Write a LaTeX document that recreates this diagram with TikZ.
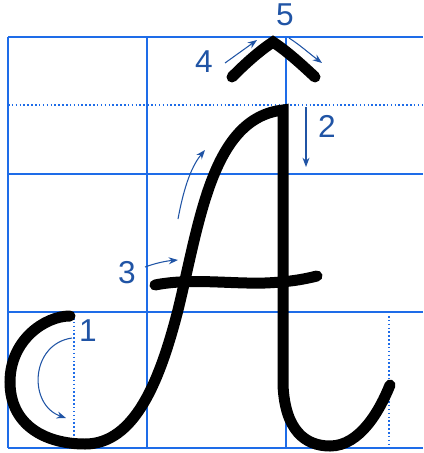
\documentclass[tikz,border=0pt]{standalone}
\usepackage{fontspec}
\usepackage{tikz}
\usetikzlibrary{arrows.meta, positioning, calc}
\newfontfamily\numfont{Liberation Sans}
\definecolor{gridBlue}{RGB}{30, 108, 232}
\definecolor{guideBlue}{RGB}{32, 84, 165}
\definecolor{inkBlack}{RGB}{0, 0, 0}
\tikzset{
  gridline/.style={
    draw=gridBlue, line width=1.8pt
  },
  gridmid/.style={
    draw=gridBlue, line width=1.3pt, dotted
  },
  letterstroke/.style={
    draw=inkBlack, line width=0.33cm,
    line cap=round, line join=round
  },
  guidearrow/.style={
    -{Stealth[length=2.8mm,width=2.1mm]},
    line width=0.9pt, color=guideBlue
  },
  stepnum/.style={
    inner sep=0pt, text=guideBlue,
    font=\numfont\fontsize{27}{27}\selectfont
  }
}

\begin{document}
\begin{tikzpicture}[x=0.03cm, y=-0.03cm]

  \useasboundingbox (0,0) rectangle (423,453);

  % writing grid
  \foreach \gy in {37, 174, 312, 448}
    \draw[gridline] (8,\gy) -- (423,\gy);
  \foreach \gx in {8, 147, 286}
    \draw[gridline] (\gx,37) -- (\gx,448);
  \draw[gridmid] (8,105) -- (423,105);
  \draw[gridmid] (74,318) -- (74,448);
  \draw[gridmid] (389,316) -- (389,448);

  % the letter
  \draw[letterstroke, line join=miter]
    (70,316) .. controls (45,316) and (10,340) .. (10,382)
    .. controls (10,425) and (45,444) .. (85,444)
    .. controls (135,444) and (160,380) .. (178,310)
    .. controls (200,220) and (212,118) .. (283,110)
    -- (283,385)
    .. controls (285,430) and (305,446) .. (330,446)
    .. controls (360,446) and (380,410) .. (390,385);
  \draw[letterstroke]
    (155,285) .. controls (190,278) and (230,284) .. (265,283)
    .. controls (290,282) and (305,279) .. (317,276);
  \draw[letterstroke, line join=miter]
    (232,77) .. controls (245,64) and (258,52) .. (273,42)
    .. controls (288,52) and (301,64) .. (315,77);

  % step numbers
  \node[stepnum] (n1) at (88,331) {1};
  \node[stepnum] (n2) at (327,126) {2};
  \node[stepnum] (n3) at (127,273) {3};
  \node[stepnum] (n4) at (204,62) {4};
  \node[stepnum] (n5) at (285,15) {5};

  % guide arrows
  \coordinate (a1s) at (72,338);
  \coordinate (a1e) at (66,418);
  \coordinate (a2s) at (306,107);
  \coordinate (a2e) at (306,167);
  \coordinate (a3s) at (145,267);
  \coordinate (a3e) at (178,260);
  \coordinate (aus) at (178,219);
  \coordinate (aue) at (205,150);
  \coordinate (a4s) at (225,63);
  \coordinate (a4e) at (257,40);
  \coordinate (a5s) at (289,38);
  \coordinate (a5e) at (322,63);

  \draw[guidearrow] (a1s) .. controls (30,344) and (28,405) .. (a1e);
  \draw[guidearrow] (a2s) -- (a2e);
  \draw[guidearrow] (a3s) .. controls (156,263) and (166,261) .. (a3e);
  \draw[guidearrow] (aus) .. controls (183,192) and (190,168) .. (aue);
  \draw[guidearrow] (a4s) -- (a4e);
  \draw[guidearrow] (a5s) .. controls (300,45) and (310,54) .. (a5e);

\end{tikzpicture}
\end{document}
